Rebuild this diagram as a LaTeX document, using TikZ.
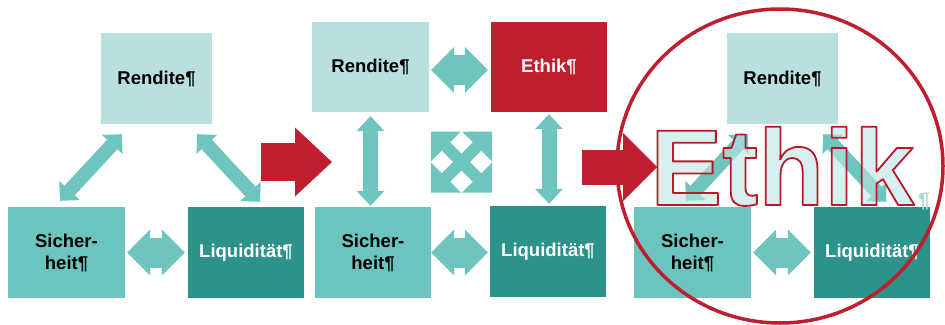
\documentclass[tikz,border=0pt]{standalone}
\usepackage{fontspec}
\setmainfont{Liberation Sans}
\usetikzlibrary{arrows.meta}
\definecolor{paleteal}{RGB}{185,224,222}
\definecolor{midteal}{RGB}{108,196,190}
\definecolor{darkteal}{RGB}{44,146,138}
\definecolor{arrowteal}{RGB}{110,197,190}
\definecolor{ethikred}{RGB}{190,30,45}
\definecolor{glassteal}{RGB}{190,228,228}
\tikzset{
  x = 1pt,
  y = -1pt, % y runs downwards, as in the scan
  box/.style = { % coloured text box, argument = colour
    rectangle,
    fill = #1,
    inner sep = 0pt, % no 'padding' b/w text and edge
    minimum width = 116pt,
    minimum height = 91pt,
    align = center,
    font = \bfseries\fontsize{18.5}{22}\selectfont,
  },
  link/.style n args = {3}{ % two-headed block arrow: #1=shaft, #2=head width, #3=head length
    draw = arrowteal,
    line width = #1,
    arrows = {Triangle[width=#2,length=#3,line width=0pt 0 0]-Triangle[width=#2,length=#3,line width=0pt 0 0]},
  },
  bigarrow/.style n args = {3}{ % red one-headed block arrow
    draw = ethikred,
    line width = #1,
    arrows = {-Triangle[width=#2,length=#3,line width=0pt 0 0]},
  },
  bigword/.style = { % the large word, both layers
    font = \bfseries\fontsize{108}{108}\selectfont,
    anchor = base west,
    inner sep = 0pt,
  },
}
\newcommand{\outlined}[1]{% text only stroked (render mode 1)
  \special{pdf:literal direct 1 Tr 1.8 w 1 j 0.72 0.10 0.16 RG}#1\special{pdf:literal direct 0 Tr}}

\begin{document}
\begin{tikzpicture}
    \useasboundingbox (0,0) rectangle (945,324);
    \foreach \p/\dx in {1/0,3/626}{ % the two triangles
      \node[box=paleteal, minimum width=111pt] (rend\p) at (156.5+\dx,78.5) {Rendite¶};
      \node[box=midteal, minimum width=117pt] (sich\p) at (66.5+\dx,252.5) {Sicher-\\heit¶};
      \node[box=darkteal, text=white] (liq\p) at (246+\dx,252.5) {Liquidität¶};
      \draw[link={14pt}{28pt}{14pt}] ([shift={(21,10)}]rend\p.south west) -- ([shift={(-6.5,-6)}]sich\p.north); % left edge
      \draw[link={14pt}{28pt}{14pt}] ([shift={(-15,10)}]rend\p.south east) -- ([shift={(14,-5)}]liq\p.north); % right edge
      \draw[link={30pt}{46pt}{23pt}, shorten <=2pt, shorten >=3pt] (sich\p.east) -- (liq\p.west); % bottom edge
    } % end loop
    % square with ethics
    \node[box=paleteal, minimum width=117pt, minimum height=90pt] (rend2) at (370.5,67) {Rendite¶};
    \node[box=ethikred, text=white, minimum height=90pt] (ethik2) at (549,67) {Ethik¶};
    \node[box=midteal] (sich2) at (373,252.5) {Sicher-\\heit¶};
    \node[box=darkteal, text=white] (liq2) at (548,251.5) {Liquidität¶};
    \draw[link={30pt}{46pt}{23pt}, shorten <=2pt, shorten >=3pt] ([yshift=-3pt]rend2.east) -- ([yshift=-3pt]ethik2.west);
    \draw[link={30pt}{46pt}{23pt}, shorten <=0pt, shorten >=2pt] (sich2.east) -- (sich2.east -| liq2.west);
    \draw[link={15pt}{28pt}{15pt}, shorten <=4pt, shorten >=1pt] (rend2.south) -- (rend2.south |- sich2.north);
    \draw[link={15pt}{28pt}{15pt}, shorten <=2pt, shorten >=2pt] (ethik2.south) -- (ethik2.south |- liq2.north);
    \coordinate (cross) at (461.5,162); % centre of the crossed arrows
    \draw[link={12pt}{42.4pt}{21.2pt}] ([shift={(-30.5,-30.5)}]cross) -- ([shift={(30.5,30.5)}]cross);
    \draw[link={12pt}{42.4pt}{21.2pt}] ([shift={(30.5,-30.5)}]cross) -- ([shift={(-30.5,30.5)}]cross);
    % red arrows b/w the panels
    \coordinate (go1) at (261,162);
    \coordinate (go1end) at (332,162);
    \coordinate (go2) at (582,167);
    \coordinate (go2end) at (657,167);
    \draw[bigarrow={38pt}{69pt}{37pt}] (go1) -- (go1end);
    \draw[bigarrow={35pt}{68pt}{34pt}] (go2) -- (go2end);
    % big word over the last triangle: glassy fill, then red outline
    \node[bigword, text=glassteal, text opacity=0.6] (bigethik) at (650,205) {Ethik};
    \node[bigword] (bigethikline) at (650,205) {\outlined{Ethik}};
    \node[font=\bfseries\fontsize{21}{21}\selectfont, text=arrowteal!60, anchor=base west,
      inner sep=0pt] (pilcrow) at (918,207) {¶};
    \draw[ethikred, line width=3.5pt] (780,166) ellipse [x radius=163, y radius=157]; % ring
  \end{tikzpicture}
\end{document}
